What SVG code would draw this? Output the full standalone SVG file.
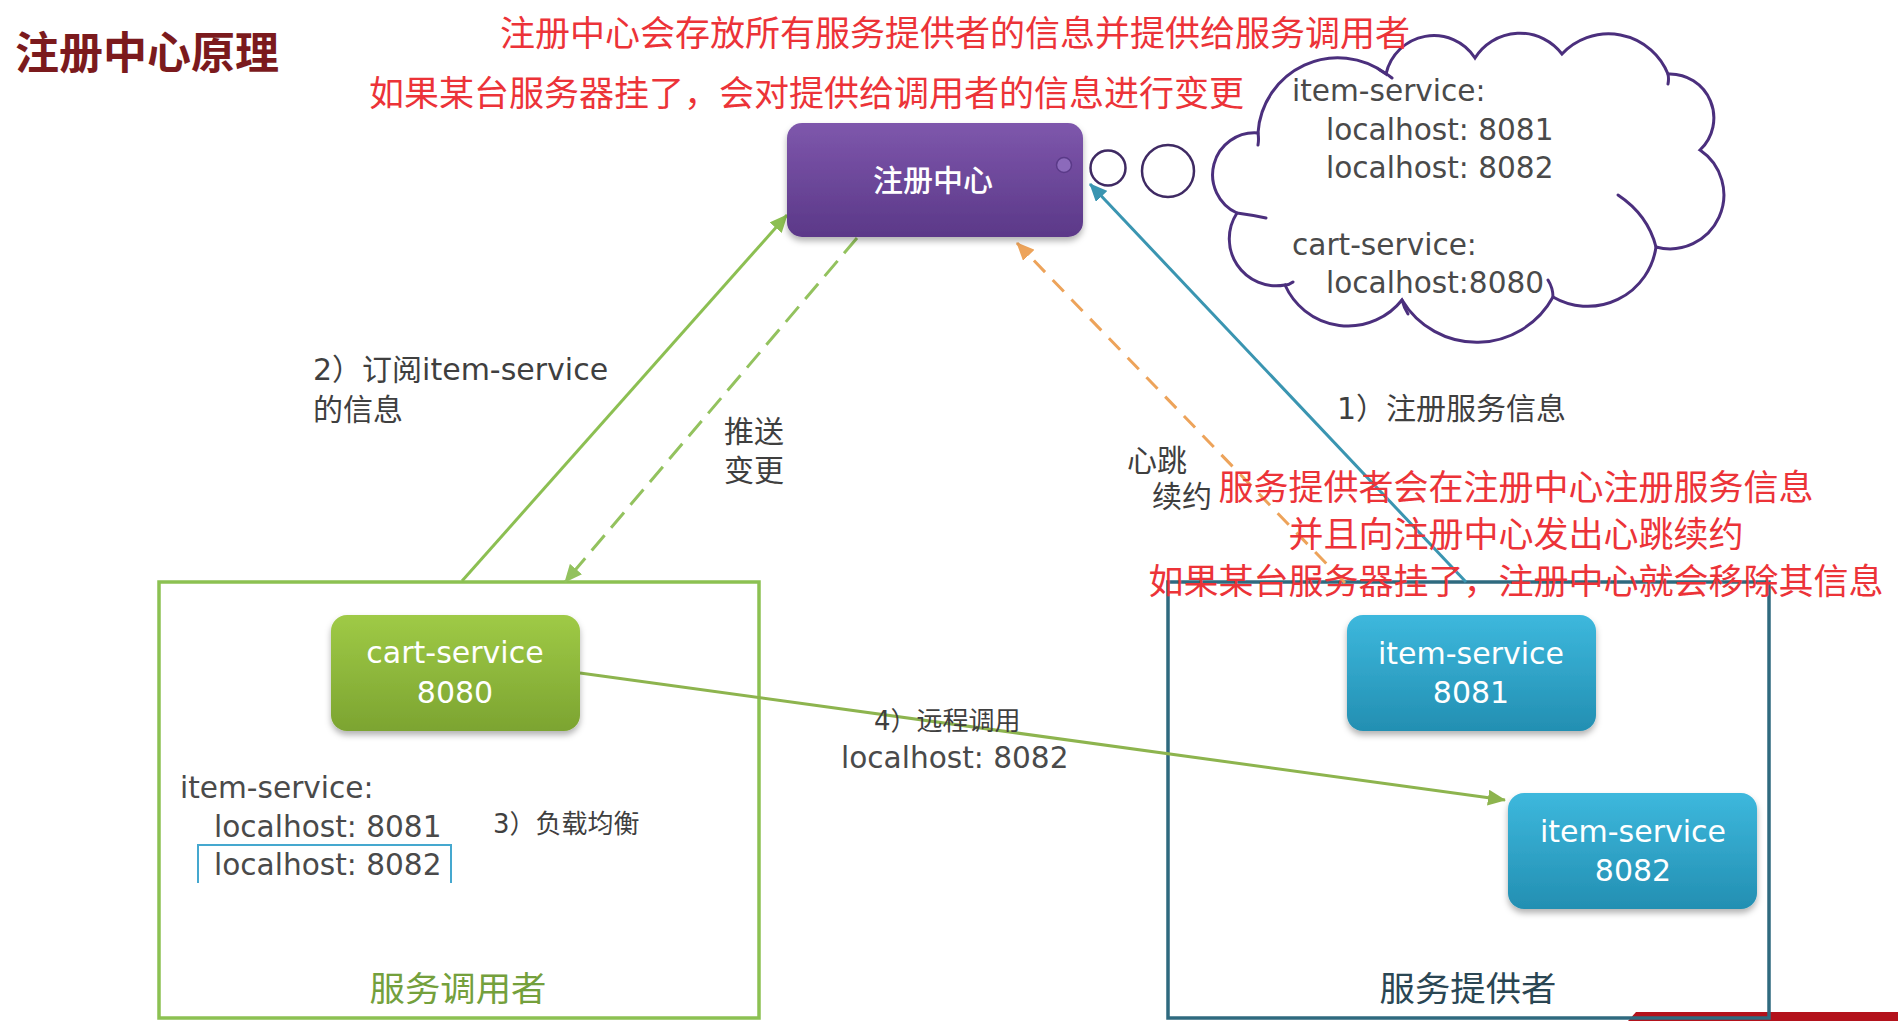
<svg xmlns="http://www.w3.org/2000/svg" width="1898" height="1021" viewBox="0 0 1898 1021">
<defs>
<style>
.red{fill:#ec3338;font-size:35px;font-family:"Noto Sans CJK SC",sans-serif;}
.lbl{fill:#3f3f3f;font-size:30px;font-family:"DejaVu Sans","Noto Sans CJK SC",sans-serif;}
.lbls{fill:#3f3f3f;font-size:26px;font-family:"DejaVu Sans","Noto Sans CJK SC",sans-serif;}
.mono{fill:#4a4a4a;font-size:29.6px;font-family:"DejaVu Sans",sans-serif;}
.ntxt{fill:#ffffff;font-size:30px;font-family:"DejaVu Sans",sans-serif;text-anchor:middle;}
.conn{fill:none;stroke-width:3;}
.cloud{fill:none;stroke:#4b2f7d;stroke-width:3;stroke-linecap:round;}
</style>
<linearGradient id="gPurple" x1="0" y1="0" x2="0" y2="1"><stop offset="0" stop-color="#7e57ac"/><stop offset="1" stop-color="#5b3888"/></linearGradient>
<linearGradient id="gGreen" x1="0" y1="0" x2="0" y2="1"><stop offset="0" stop-color="#9fca46"/><stop offset="1" stop-color="#7ca431"/></linearGradient>
<linearGradient id="gBlue" x1="0" y1="0" x2="0" y2="1"><stop offset="0" stop-color="#3db8dd"/><stop offset="1" stop-color="#238fb2"/></linearGradient>
<filter id="sh" x="-10%" y="-10%" width="120%" height="135%"><feDropShadow dx="0" dy="4" stdDeviation="3" flood-color="#000" flood-opacity="0.3"/></filter>
<marker id="aGreen" markerUnits="userSpaceOnUse" markerWidth="18" markerHeight="16" refX="17" refY="8" orient="auto"><path d="M0,0 L18,8 L0,16 z" fill="#8cbf52"/></marker>
<marker id="aGreen2" markerUnits="userSpaceOnUse" markerWidth="18" markerHeight="16" refX="17" refY="8" orient="auto"><path d="M0,0 L18,8 L0,16 z" fill="#93c25e"/></marker>
<marker id="aOlive" markerUnits="userSpaceOnUse" markerWidth="18" markerHeight="16" refX="17" refY="8" orient="auto"><path d="M0,0 L18,8 L0,16 z" fill="#8db44e"/></marker>
<marker id="aOrange" markerUnits="userSpaceOnUse" markerWidth="18" markerHeight="16" refX="17" refY="8" orient="auto"><path d="M0,0 L18,8 L0,16 z" fill="#eda35a"/></marker>
<marker id="aTeal" markerUnits="userSpaceOnUse" markerWidth="18" markerHeight="16" refX="17" refY="8" orient="auto"><path d="M0,0 L18,8 L0,16 z" fill="#3a95b1"/></marker>
</defs>
<rect width="1898" height="1021" fill="#ffffff"/>

<polygon points="1628,1021 1636,1012 1898,1012 1898,1021" fill="#b3121b"/>

<g id="consumer-box">
<rect x="159" y="582" width="600" height="436" fill="none" stroke="#8cc152" stroke-width="3.5"/>
<text x="458" y="1001" text-anchor="middle" font-size="34" textLength="177" lengthAdjust="spacingAndGlyphs" fill="#74a03c" font-family="Noto Sans CJK SC, sans-serif">服务调用者</text>
<text class="mono" x="180" y="798" fill="#333">item-service:</text>
<text class="mono" x="214" y="837">localhost: 8081</text>
<text class="mono" x="214" y="875">localhost: 8082</text>
<path d="M198,883 V845 H451 V883" fill="none" stroke="#45a8cf" stroke-width="2"/>
<text class="lbls" x="493" y="833">3）负载均衡</text>
</g>

<g id="provider-box">
<rect x="1168" y="582" width="601" height="436" fill="none" stroke="#2f6a7f" stroke-width="3.5"/>
<text x="1468" y="1001" text-anchor="middle" font-size="34" textLength="177" lengthAdjust="spacingAndGlyphs" fill="#2a4653" font-family="Noto Sans CJK SC, sans-serif">服务提供者</text>
</g>

<g id="connectors">
<line class="conn" x1="462" y1="581" x2="787" y2="215" stroke="#8cbf52" marker-end="url(#aGreen)"/>
<line class="conn" x1="857" y1="238" x2="565" y2="582" stroke="#93c25e" stroke-dasharray="20 10" marker-end="url(#aGreen2)"/>
<line class="conn" x1="1345" y1="583" x2="1017" y2="243" stroke="#eda35a" stroke-dasharray="16 11" marker-end="url(#aOrange)"/>
<line class="conn" x1="1466" y1="582" x2="1090" y2="184" stroke="#3a95b1" marker-end="url(#aTeal)"/>
<line class="conn" x1="580" y1="673" x2="1505" y2="800" stroke="#8db44e" marker-end="url(#aOlive)"/>
</g>

<g id="registry">
<rect x="787" y="123" width="296" height="114" rx="15" fill="url(#gPurple)" filter="url(#sh)"/>
<circle cx="1064" cy="165" r="7.5" fill="#8c6abb" stroke="#5a3a88" stroke-width="1.5"/>
<text x="933" y="191" text-anchor="middle" font-size="30" font-weight="500" fill="#ffffff" font-family="Noto Sans CJK SC, sans-serif">注册中心</text>
</g>

<g id="cart-service">
<rect x="331" y="615" width="249" height="116" rx="16" fill="url(#gGreen)" filter="url(#sh)"/>
<text class="ntxt" x="455" y="663">cart-service</text>
<text class="ntxt" x="455" y="703">8080</text>
</g>

<g id="item-service-8081">
<rect x="1347" y="615" width="249" height="116" rx="16" fill="url(#gBlue)" filter="url(#sh)"/>
<text class="ntxt" x="1471" y="664">item-service</text>
<text class="ntxt" x="1471" y="703">8081</text>
</g>

<g id="item-service-8082">
<rect x="1508" y="793" width="249" height="116" rx="16" fill="url(#gBlue)" filter="url(#sh)"/>
<text class="ntxt" x="1633" y="842">item-service</text>
<text class="ntxt" x="1633" y="881">8082</text>
</g>

<g id="cloud">
<circle cx="1108" cy="168" r="17.5" fill="#fff" stroke="#3f2a63" stroke-width="2.5"/>
<circle cx="1168" cy="171" r="26" fill="#fff" stroke="#3f2a63" stroke-width="2.5"/>
<path class="cloud" fill="#fff" style="fill:#fff" d="M1258,133 A80,80 0 0,1 1386,74 A49,49 0 0,1 1475,58 A53,53 0 0,1 1562,54 A64,64 0 0,1 1668,74 A44,44 0 0,1 1700,150 A54,54 0 0,1 1656,247 A69,69 0 0,1 1553,297 A87,87 0 0,1 1402,300 A69,69 0 0,1 1285,285 A47,47 0 0,1 1237,213 A42,42 0 0,1 1258,133 Z"/>
<path class="cloud" d="M1258,133 q1,6 0,12 M1380,70 q6,3 12,8 M1668,74 q1,5 0,10 M1618,195 q30,20 38,52 M1548,280 q5,8 5,17 M1402,300 q2,8 6,14 M1285,285 q4,0 8,-3 M1237,213 q15,2 29,5"/>
<text class="mono" x="1292" y="101">item-service:</text>
<text class="mono" x="1326" y="140">localhost: 8081</text>
<text class="mono" x="1326" y="178">localhost: 8082</text>
<text class="mono" x="1292" y="255">cart-service:</text>
<text class="mono" x="1326" y="293">localhost:8080</text>
</g>

<g id="labels">
<text class="lbl" x="313" y="380">2）订阅item-service</text>
<text class="lbl" x="313" y="420">的信息</text>
<text class="lbl" x="724" y="442">推送</text>
<text class="lbl" x="724" y="481">变更</text>
<text class="lbl" x="1127" y="471">心跳</text>
<text class="lbl" x="1152" y="507">续约</text>
<text class="lbl" x="1337" y="419">1）注册服务信息</text>
<text class="lbls" x="874" y="730">4）远程调用</text>
<text class="mono" x="841" y="768">localhost: 8082</text>
</g>

<g id="annotations">
<text x="15" y="69" font-size="44" font-weight="bold" fill="#7b1a1d" font-family="Noto Sans CJK SC, sans-serif">注册中心原理</text>
<text class="red" x="500" y="46">注册中心会存放所有服务提供者的信息并提供给服务调用者</text>
<text class="red" x="369" y="106">如果某台服务器挂了，会对提供给调用者的信息进行变更</text>
<text class="red" x="1516" y="500" text-anchor="middle">服务提供者会在注册中心注册服务信息</text>
<text class="red" x="1516" y="547" text-anchor="middle">并且向注册中心发出心跳续约</text>
<text class="red" x="1516" y="594" text-anchor="middle">如果某台服务器挂了，注册中心就会移除其信息</text>
</g>
</svg>
